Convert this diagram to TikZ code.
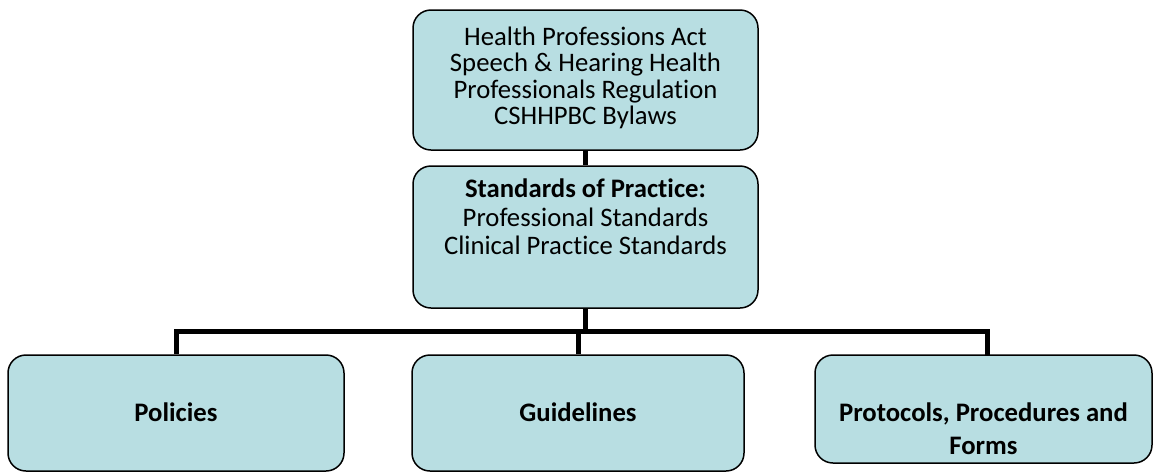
\documentclass[tikz,border=0pt]{standalone}
\usepackage{fontspec}
\setmainfont{Carlito}[Ligatures=NoCommon]
\definecolor{boxblue}{RGB}{184,222,226}
\begin{document}
\begin{tikzpicture}[x=1pt,y=-1pt,
  box/.style={draw=black, line width=1.5pt, fill=boxblue, rounded corners=18pt, inner sep=0pt},
  conn/.style={line width=5pt},
  txt/.style={font=\fontsize{26.7}{26.5}\selectfont, align=center, inner sep=0pt},
  mtxt/.style={font=\fontsize{26.7}{28.5}\selectfont, align=center, inner sep=0pt},
  btxt/.style={font=\bfseries\fontsize{26.7}{33}\selectfont, align=center, inner sep=0pt}]
\useasboundingbox (0,0) rectangle (1153,472);
% boxes
\node[box, minimum width=345pt, minimum height=140pt] (law) at (585.5,80) {};
\node[box, minimum width=345pt, minimum height=142pt] (std) at (585.5,237) {};
\node[box, minimum width=336pt, minimum height=116pt] (pol) at (176,413) {};
\node[box, minimum width=332pt, minimum height=116pt] (gui) at (578,413) {};
\node[box, minimum width=337pt, minimum height=108pt] (pro) at (983.5,409) {};
% connectors
\coordinate (barR) at (987,331.5);
\coordinate (proTop) at (987,355);
\draw[conn] (law.south) -- (std.north);
\draw[conn] (pol.north) |- (barR) -- (proTop);
\draw[conn] (std.south) -- (std.south |- barR);
\draw[conn] (gui.north) -- (gui.north |- barR);
% texts
\node[txt] (lawt) at (585.5,78) {Health Professions Act\\Speech \& Hearing Health\\Professionals Regulation\\CSHHPBC Bylaws};
\node[mtxt] (stdt) at (585.5,217) {\textbf{Standards of Practice:}\\Professional Standards\\Clinical Practice Standards};
\node[btxt, anchor=base] (polt) at (176,421) {Policies};
\node[btxt, anchor=base] (guit) at (578,421) {Guidelines};
\node[btxt] (prot) at (983.5,429) {Protocols, Procedures and\\Forms};
\end{tikzpicture}
\end{document}
